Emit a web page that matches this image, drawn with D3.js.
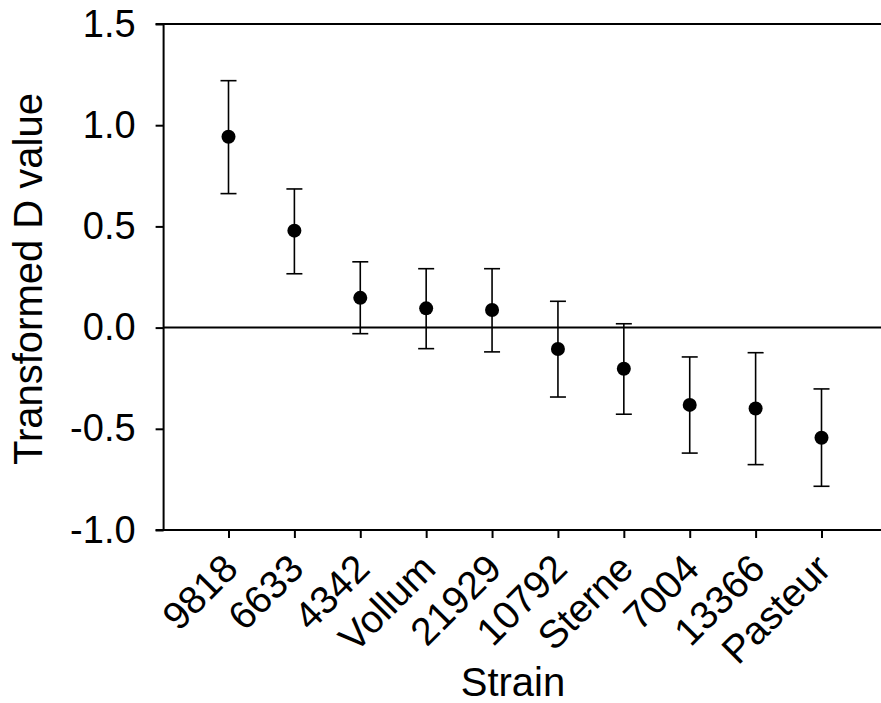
<!DOCTYPE html>
<html>
<head>
<meta charset="utf-8">
<script src="https://cdn.jsdelivr.net/npm/d3@7"></script>
<style>
  body { margin: 0; background: #fff; }
  svg { display: block; font-family: "Liberation Sans", Arial, Helvetica, sans-serif; }
</style>
</head>
<body>
<svg width="881" height="703"></svg>
<script>
// data
const strains = ["9818", "6633", "4342", "Vollum", "21929", "10792", "Sterne", "7004", "13366", "Pasteur"];
const means = [0.943, 0.479, 0.147, 0.095, 0.087, -0.106, -0.203, -0.382, -0.400, -0.544];
const upper = [1.220, 0.685, 0.325, 0.291, 0.291, 0.130, 0.019, -0.145, -0.124, -0.303];
const lower = [0.662, 0.266, -0.030, -0.104, -0.120, -0.343, -0.428, -0.620, -0.677, -0.784];
const yTicks = [-1.0, -0.5, 0.0, 0.5, 1.0, 1.5];

function main(){
  const svg = d3.select("svg");
  const W = +svg.attr("width");

  // scales
  const xScale = d3.scaleLinear().domain([0, strains.length - 1]).range([228.5, 821.5]);
  const yScale = d3.scaleLinear().domain([-1.0, 1.5]).range([530, 24]);
  const left = xScale(-0.985);

  // y axis
  const yAxis = d3.axisLeft(yScale).tickValues(yTicks).tickFormat(d => d.toFixed(1))
    .tickSize(8).tickPadding(20);
  const gy = svg.append("g").attr("transform", `translate(${left},0)`).call(yAxis);
  gy.select(".domain").attr("stroke-width", 2).attr("d", `M0,${yScale(-1)}V${yScale(1.5)}`);
  gy.selectAll(".tick line").attr("stroke-width", 2);
  gy.selectAll(".tick text").attr("font-size", 38).attr("font-family", "Liberation Sans, Arial, sans-serif").attr("fill", "#000");

  // x axis
  const xAxis = d3.axisBottom(xScale).tickValues(d3.range(strains.length)).tickFormat(i => strains[i])
    .tickSizeInner(8).tickSizeOuter(0);
  const gx = svg.append("g").attr("transform", `translate(0,${yScale(-1)})`).call(xAxis);
  gx.select(".domain").attr("stroke-width", 2).attr("d", `M${left - 8},0H${W}`);
  gx.selectAll(".tick line").attr("stroke-width", 2);
  gx.selectAll(".tick text")
    .attr("font-size", 39).attr("font-family", "Liberation Sans, Arial, sans-serif").attr("fill", "#000")
    .attr("text-anchor", "end")
    .attr("dy", null)
    .attr("y", 0)
    .attr("transform", "translate(11,41) rotate(-45)");

  // top frame line and zero line
  svg.append("line").attr("x1", left - 8).attr("x2", W)
    .attr("y1", yScale(1.5)).attr("y2", yScale(1.5))
    .attr("stroke", "#000").attr("stroke-width", 2);
  svg.append("line").attr("x1", left).attr("x2", W)
    .attr("y1", yScale(0)).attr("y2", yScale(0))
    .attr("stroke", "#000").attr("stroke-width", 2);

  // error bars
  const bars = svg.append("g").selectAll("g").data(strains).enter().append("g");
  bars.append("line")
    .attr("x1", (d, i) => xScale(i)).attr("x2", (d, i) => xScale(i))
    .attr("y1", (d, i) => yScale(upper[i])).attr("y2", (d, i) => yScale(lower[i]))
    .attr("stroke", "#000").attr("stroke-width", 1.6);
  bars.append("line")
    .attr("x1", (d, i) => xScale(i) - 8).attr("x2", (d, i) => xScale(i) + 8)
    .attr("y1", (d, i) => yScale(upper[i])).attr("y2", (d, i) => yScale(upper[i]))
    .attr("stroke", "#000").attr("stroke-width", 1.6);
  bars.append("line")
    .attr("x1", (d, i) => xScale(i) - 8).attr("x2", (d, i) => xScale(i) + 8)
    .attr("y1", (d, i) => yScale(lower[i])).attr("y2", (d, i) => yScale(lower[i]))
    .attr("stroke", "#000").attr("stroke-width", 1.6);

  // points
  svg.append("g").selectAll("circle").data(means).enter().append("circle")
    .attr("cx", (d, i) => xScale(i)).attr("cy", d => yScale(d)).attr("r", 7).attr("fill", "#000");

  // axis titles
  svg.append("text").attr("x", 513).attr("y", 696).attr("text-anchor", "middle")
    .attr("font-size", 40).text("Strain");
  svg.append("text").attr("transform", "translate(42,279) rotate(-90)").attr("text-anchor", "middle")
    .attr("font-size", 40).text("Transformed D value");
};

main();
</script>
</body>
</html>
